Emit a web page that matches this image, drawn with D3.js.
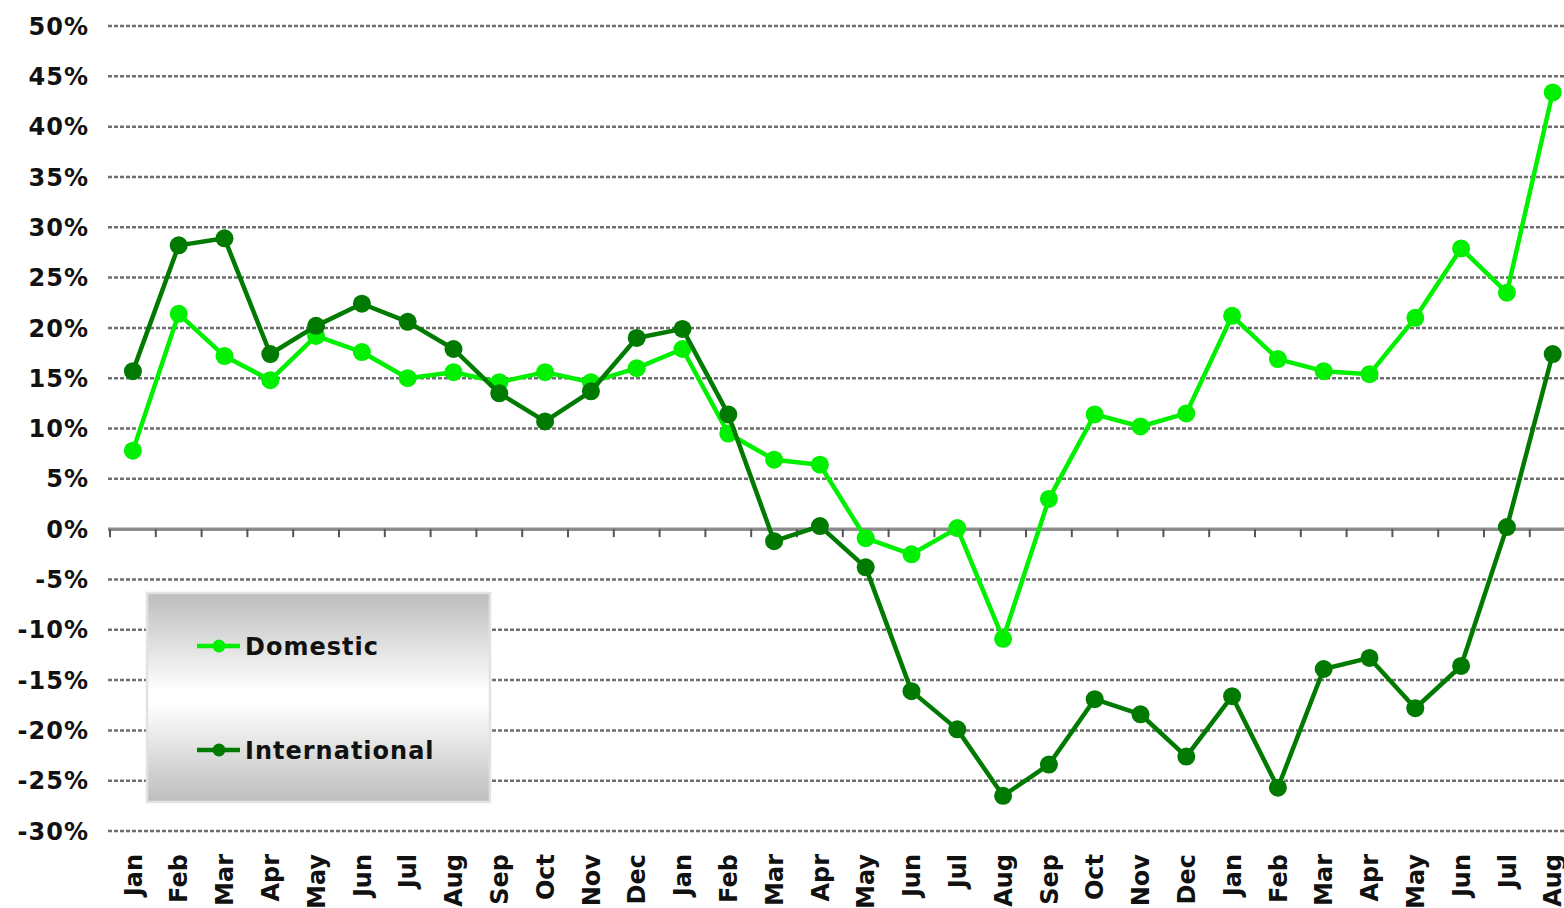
<!DOCTYPE html>
<html>
<head>
<meta charset="utf-8">
<script src="https://cdn.jsdelivr.net/npm/d3@7"></script>
<style>
  body { margin: 0; background: #fff; }
  svg text { font-family: "DejaVu Sans", Verdana, sans-serif; font-weight: bold; fill: #111; letter-spacing: 1px; }
  svg #xLabels text { letter-spacing: 0; }
</style>
</head>
<body>
<svg id="chart" width="1564" height="908"></svg>
<script>
// month labels, 32 months (Jan..Dec, Jan..Dec, Jan..Aug)
var months = ["Jan","Feb","Mar","Apr","May","Jun","Jul","Aug","Sep","Oct","Nov","Dec",
              "Jan","Feb","Mar","Apr","May","Jun","Jul","Aug","Sep","Oct","Nov","Dec",
              "Jan","Feb","Mar","Apr","May","Jun","Jul","Aug"];

// year on year change, %
var domestic = [7.8, 21.4, 17.2, 14.8, 19.2, 17.6, 15.0, 15.6, 14.6, 15.6, 14.6, 16.0,
                17.9, 9.5, 6.9, 6.4, -0.9, -2.5, 0.1, -10.9, 3.0, 11.4, 10.2, 11.5,
                21.2, 16.9, 15.7, 15.4, 21.0, 27.9, 23.5, 43.4];
var international = [15.7, 28.2, 28.9, 17.4, 20.2, 22.4, 20.6, 17.9, 13.5, 10.7, 13.7, 19.0,
                     19.9, 11.4, -1.2, 0.3, -3.8, -16.1, -19.9, -26.5, -23.4, -16.9, -18.4, -22.6,
                     -16.6, -25.7, -13.9, -12.8, -17.8, -13.6, 0.2, 17.4];
var yTicks = [-30, -25, -20, -15, -10, -5, 0, 5, 10, 15, 20, 25, 30, 35, 40, 45, 50];

var seriesList = [
	{name: "Domestic", values: domestic, color: "#00f000"},
	{name: "International", values: international, color: "#007a00"}
];

var svg = d3.select("#chart");

var x = d3.scaleBand()
	.domain(d3.range(months.length))
	.range([110, 110 + 45.8 * months.length])
	.paddingInner(0).paddingOuter(0);

var y = d3.scaleLinear()
	.domain([-30, 50])
	.range([831, 26]);

function cx(i){ return x(i) + x.bandwidth() / 2; }

// gridlines
svg.append("g").attr("id", "grid")
	.selectAll("line")
	.data(yTicks.filter(function(d){ return d != 0; }))
	.enter().append("line")
	.attr("x1", 108).attr("x2", 1564)
	.attr("y1", function(d){ return y(d); })
	.attr("y2", function(d){ return y(d); })
	.attr("stroke", "#6e6e6e")
	.attr("stroke-width", 2.5)
	.attr("stroke-dasharray", "4,2");

// y labels
svg.append("g").attr("id", "yLabels")
	.selectAll("text")
	.data(yTicks)
	.enter().append("text")
	.attr("x", 89)
	.attr("y", function(d){ return y(d); })
	.attr("dy", "0.36em")
	.attr("text-anchor", "end")
	.style("font-size", "24px")
	.text(function(d){ return d + "%"; });

// zero axis with ticks on category boundaries
var axisG = svg.append("g").attr("id", "zeroAxis");
axisG.append("line")
	.attr("x1", 108).attr("x2", 1564)
	.attr("y1", y(0)).attr("y2", y(0))
	.attr("stroke", "#8c8c8c")
	.attr("stroke-width", 3.5);
axisG.selectAll("line.tick")
	.data(d3.range(months.length + 1))
	.enter().append("line")
	.attr("class", "tick")
	.attr("x1", function(i){ return x.range()[0] + i * x.bandwidth(); })
	.attr("x2", function(i){ return x.range()[0] + i * x.bandwidth(); })
	.attr("y1", y(0)).attr("y2", y(0) + 8)
	.attr("stroke", "#555")
	.attr("stroke-width", 2);

// x labels, rotated
svg.append("g").attr("id", "xLabels")
	.selectAll("text")
	.data(months)
	.enter().append("text")
	.attr("transform", function(d, i){ return "translate(" + cx(i) + ",854) rotate(-90)"; })
	.attr("dy", "0.36em")
	.attr("text-anchor", "end")
	.style("font-size", "24px")
	.text(function(d){ return d; });

// series
var line = d3.line()
	.x(function(d, i){ return cx(i); })
	.y(function(d){ return y(d); });

seriesList.forEach(function(s){
	var g = svg.append("g").attr("class", "series");
	g.append("path")
		.datum(s.values)
		.attr("d", line)
		.attr("fill", "none")
		.attr("stroke", s.color)
		.attr("stroke-width", 4.5)
		.attr("stroke-linejoin", "round");
	g.selectAll("circle")
		.data(s.values)
		.enter().append("circle")
		.attr("cx", function(d, i){ return cx(i); })
		.attr("cy", function(d){ return y(d); })
		.attr("r", 9)
		.attr("fill", s.color);
});

// legend
var defs = svg.append("defs");
var grad = defs.append("linearGradient")
	.attr("id", "legendGrad")
	.attr("x1", 0).attr("y1", 0).attr("x2", 0).attr("y2", 1);
grad.append("stop").attr("offset", "0").attr("stop-color", "#bdbdbd");
grad.append("stop").attr("offset", "0.47").attr("stop-color", "#ffffff");
grad.append("stop").attr("offset", "0.53").attr("stop-color", "#ffffff");
grad.append("stop").attr("offset", "1").attr("stop-color", "#bdbdbd");

var legend = svg.append("g").attr("id", "legend");
legend.append("rect")
	.attr("x", 147).attr("y", 593)
	.attr("width", 343).attr("height", 209)
	.attr("fill", "url(#legendGrad)")
	.attr("stroke", "#e2e2e2")
	.attr("stroke-width", 2.5);

var legendRows = legend.selectAll("g.row")
	.data(seriesList)
	.enter().append("g")
	.attr("class", "row")
	.attr("transform", function(d, i){ return "translate(0," + (646 + i * 104) + ")"; });
legendRows.append("line")
	.attr("x1", 197).attr("x2", 240)
	.attr("y1", 0).attr("y2", 0)
	.attr("stroke", function(d){ return d.color; })
	.attr("stroke-width", 4.5);
legendRows.append("circle")
	.attr("cx", 219).attr("cy", 0).attr("r", 6.5)
	.attr("fill", function(d){ return d.color; });
legendRows.append("text")
	.attr("x", 245).attr("y", 0)
	.attr("dy", "0.36em")
	.style("font-size", "24px")
	.text(function(d){ return d.name; });
</script>
</body>
</html>
